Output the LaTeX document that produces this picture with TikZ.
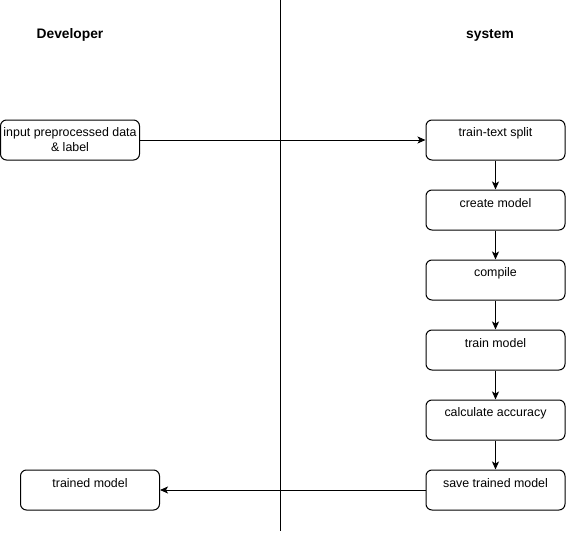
\documentclass[tikz,border=0pt]{standalone}
\usepackage{fontspec}
\setmainfont{Liberation Sans}
\usetikzlibrary{arrows.meta}
\begin{document}
\begin{tikzpicture}[x=1pt,y=-1pt,
  box/.style={draw=black,line width=1pt,rounded corners=6pt,minimum width=139pt,minimum height=40pt,inner sep=0pt},
  txt/.style={font=\fontsize{12.4}{15}\selectfont,inner sep=0pt,align=center},
  head/.style={font=\fontsize{13.8}{16}\selectfont\bfseries,inner sep=0pt},
  conn/.style={line width=1pt,-{Stealth[length=8pt,width=7pt,inset=2pt]}}]
\useasboundingbox (0,0) rectangle (566,533);
\coordinate (lt) at (280,0);
\coordinate (lb) at (280,531);
\draw[line width=1pt] (lt) -- (lb);
\node[head] (dev) at (70,35) {Developer};
\node[head] (sys) at (490,35) {system};
\node[box] (in) at (70,140) {};
\node[txt] (inT) at (in.center) {input preprocessed data\\\& label};
\node[box] (b1) at (495.5,140) {};
\node[box] (b2) at (495.5,210) {};
\node[box] (b3) at (495.5,280) {};
\node[box] (b4) at (495.5,350) {};
\node[box] (b5) at (495.5,420) {};
\node[box] (b6) at (495.5,490) {};
\node[box] (out) at (90,490) {};
\node[txt] at ([yshift=-14pt]b1.north) {train-text split};
\node[txt] at ([yshift=-14pt]b2.north) {create model};
\node[txt] at ([yshift=-14pt]b3.north) {compile};
\node[txt] at ([yshift=-14pt]b4.north) {train model};
\node[txt] at ([yshift=-14pt]b5.north) {calculate accuracy};
\node[txt] at ([yshift=-14pt]b6.north) {save trained model};
\node[txt] at ([yshift=-14pt]out.north) {trained model};
\draw[conn] (in) -- (b1);
\draw[conn] (b1) -- (b2);
\draw[conn] (b2) -- (b3);
\draw[conn] (b3) -- (b4);
\draw[conn] (b4) -- (b5);
\draw[conn] (b5) -- (b6);
\draw[conn] (b6) -- (out);
\end{tikzpicture}
\end{document}
